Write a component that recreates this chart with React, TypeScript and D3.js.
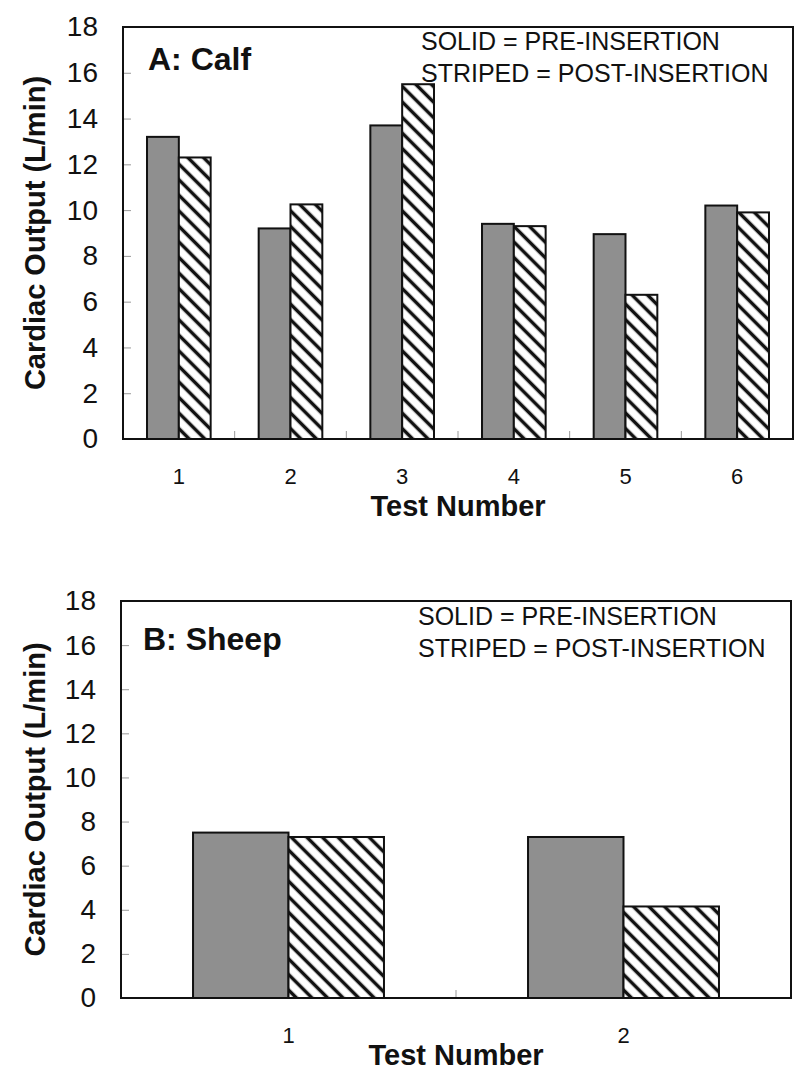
import React, { useEffect, useRef } from "react";
import * as d3 from "d3";

const calfTests = ["1", "2", "3", "4", "5", "6"];
const calfPre = [13.2, 9.2, 13.7, 9.4, 8.95, 10.2];
const calfPost = [12.3, 10.25, 15.5, 9.3, 6.3, 9.9];

const sheepTests = ["1", "2"];
const sheepPre = [7.5, 7.3];
const sheepPost = [7.3, 4.15];

const yTicks = [0, 2, 4, 6, 8, 10, 12, 14, 16, 18];
const seriesKeys = ["pre", "post"];
const legendLines = ["SOLID = PRE-INSERTION", "STRIPED = POST-INSERTION"];
const yTitle = "Cardiac Output (L/min)";
const xTitle = "Test Number";

const font = "'Liberation Sans', Arial, Helvetica, sans-serif";

function drawPanel(svg, opts) {
  const { tests, pre, post, title, left, top, right, bottom, titleDx, titleDy, legendDx, legendDy, xTitleDy } = opts;
  const g = svg.append("g").attr("class", "panel").style("font-family", font);

  const x = d3
    .scaleBand()
    .domain(tests)
    .range([left, right])
    .paddingInner(0.43)
    .paddingOuter(0.215);
  const xs = d3.scaleBand().domain(seriesKeys).range([0, x.bandwidth()]);
  const y = d3.scaleLinear().domain([0, 18]).range([bottom, top]);

  // y ticks (inside) + labels
  const yAxis = g
    .append("g")
    .attr("transform", `translate(${left},0)`)
    .call(d3.axisLeft(y).tickValues(yTicks).tickSize(-8).tickPadding(25));
  yAxis.select(".domain").remove();
  yAxis.selectAll(".tick line").attr("stroke", "#999").attr("stroke-width", 1);
  yAxis
    .selectAll(".tick text")
    .style("font-family", font)
    .style("font-size", "28px")
    .attr("fill", "#111");

  // x labels
  const xAxis = g
    .append("g")
    .attr("transform", `translate(0,${bottom})`)
    .call(d3.axisBottom(x).tickSize(0));
  xAxis.select(".domain").remove();
  xAxis
    .selectAll(".tick text")
    .attr("dy", null)
    .attr("y", 45)
    .style("font-family", font)
    .style("font-size", "22px")
    .attr("fill", "#111");

  // small ticks between groups
  g.append("g")
    .selectAll("line")
    .data(tests.slice(1))
    .enter()
    .append("line")
    .attr("x1", (d) => x(d) - (x.step() - x.bandwidth()) / 2)
    .attr("x2", (d) => x(d) - (x.step() - x.bandwidth()) / 2)
    .attr("y1", bottom - 1)
    .attr("y2", bottom - 8)
    .attr("stroke", "#999")
    .attr("stroke-width", 1);

  // bars
  const groups = g
    .append("g")
    .selectAll("g")
    .data(tests.map((t, i) => ({ test: t, pre: pre[i], post: post[i] })))
    .enter()
    .append("g")
    .attr("transform", (d) => `translate(${x(d.test)},0)`);

  groups
    .selectAll("rect")
    .data((d) => seriesKeys.map((k) => ({ key: k, value: d[k] })))
    .enter()
    .append("rect")
    .attr("x", (d) => xs(d.key))
    .attr("width", xs.bandwidth())
    .attr("y", (d) => y(d.value))
    .attr("height", (d) => bottom - y(d.value))
    .attr("fill", (d) => (d.key === "pre" ? "#8f8f8f" : "url(#hatch)"))
    .attr("stroke", "#111")
    .attr("stroke-width", 2);

  // frame
  g.append("rect")
    .attr("x", left)
    .attr("y", top)
    .attr("width", right - left)
    .attr("height", bottom - top)
    .attr("fill", "none")
    .attr("stroke", "#111")
    .attr("stroke-width", 2);

  g.append("text")
    .attr("x", left + titleDx)
    .attr("y", top + titleDy)
    .style("font-size", "32px")
    .style("font-weight", "bold")
    .attr("fill", "#111")
    .text(title);

  g.append("g")
    .selectAll("text")
    .data(legendLines)
    .enter()
    .append("text")
    .attr("x", left + legendDx)
    .attr("y", (d, i) => top + legendDy + i * 32)
    .style("font-size", "25px")
    .attr("fill", "#111")
    .text((d) => d);

  g.append("text")
    .attr("transform", `translate(45,${(top + bottom) / 2}) rotate(-90)`)
    .attr("text-anchor", "middle")
    .style("font-size", "29px")
    .style("font-weight", "bold")
    .attr("fill", "#111")
    .text(yTitle);

  g.append("text")
    .attr("x", (left + right) / 2)
    .attr("y", bottom + xTitleDy)
    .attr("text-anchor", "middle")
    .style("font-size", "29px")
    .style("font-weight", "bold")
    .attr("fill", "#111")
    .text(xTitle);
}

const App = () => {
  const width = 800;
  const height = 1073;
  const ref = useRef(null);

  useEffect(() => {
    const svg = d3.select(ref.current);
    svg.selectAll("g.panel").remove();

    drawPanel(svg, {
      tests: calfTests,
      pre: calfPre,
      post: calfPost,
      title: "A: Calf",
      left: 123,
      top: 27,
      right: 793,
      bottom: 439,
      titleDx: 25,
      titleDy: 43,
      legendDx: 298,
      legendDy: 23,
      xTitleDy: 77,
    });

    drawPanel(svg, {
      tests: sheepTests,
      pre: sheepPre,
      post: sheepPost,
      title: "B: Sheep",
      left: 121,
      top: 601,
      right: 791,
      bottom: 998,
      titleDx: 22,
      titleDy: 49,
      legendDx: 297,
      legendDy: 24,
      xTitleDy: 67,
    });
  }, []);

  return (
    <svg
      ref={ref}
      width={width}
      height={height}
      style={{ position: "absolute", left: 0, top: 0, background: "#fff" }}
    >
      <defs>
        <pattern
          id="hatch"
          patternUnits="userSpaceOnUse"
          width="11"
          height="11"
          patternTransform="rotate(45)"
        >
          <rect width="11" height="11" fill="#fff" />
          <line x1="0" y1="5.5" x2="11" y2="5.5" stroke="#111" strokeWidth="3.5" />
        </pattern>
      </defs>
    </svg>
  );
};

export default App;
